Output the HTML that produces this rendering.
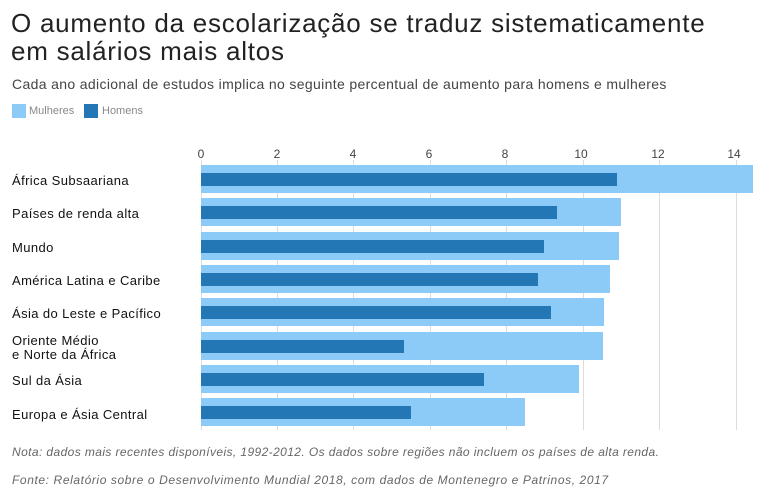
<!DOCTYPE html>
<html><head><meta charset="utf-8"><style>
body{margin:0;width:768px;height:504px;background:#fff;font-family:"Liberation Sans","DejaVu Sans",sans-serif;position:relative;overflow:hidden}
.a{position:absolute;white-space:nowrap}
.t{font-size:26px;color:#222;left:11px;line-height:28px;letter-spacing:0.75px}
.lab{font-size:13px;color:#111;left:12px;letter-spacing:0.4px}
.tick{font-size:12px;color:#444;top:147px;width:30px;text-align:center}
.g{position:absolute;top:160px;height:270px;width:1px;background:#ddd}
.l{position:absolute;left:201px;height:28px;background:#8ccaf8}
.d{position:absolute;left:201px;height:13px;background:#2277b4}
.n{font-size:12px;font-style:italic;color:#666;left:12px;letter-spacing:0.4px}
</style></head><body>
<div class="a t" style="top:9px">O aumento da escolarização se traduz sistematicamente</div>
<div class="a t" style="top:37px">em salários mais altos</div>
<div class="a" style="left:12px;top:76px;font-size:14px;color:#444;letter-spacing:0.35px">Cada ano adicional de estudos implica no seguinte percentual de aumento para homens e mulheres</div>
<div class="a" style="left:12px;top:104px;width:14px;height:14px;background:#8ccaf8"></div>
<div class="a" style="left:29px;top:105px;font-size:11px;color:#888">Mulheres</div>
<div class="a" style="left:84px;top:104px;width:14px;height:14px;background:#2277b4"></div>
<div class="a" style="left:102px;top:105px;font-size:11px;color:#888">Homens</div>

<div class="g" style="left:201px"></div><div class="g" style="left:277px"></div><div class="g" style="left:353px"></div><div class="g" style="left:430px"></div><div class="g" style="left:506px"></div><div class="g" style="left:583px"></div><div class="g" style="left:659px"></div><div class="g" style="left:736px"></div>
<div class="a tick" style="left:186px">0</div><div class="a tick" style="left:262px">2</div><div class="a tick" style="left:338px">4</div><div class="a tick" style="left:414px">6</div><div class="a tick" style="left:490px">8</div><div class="a tick" style="left:566px">10</div><div class="a tick" style="left:643px">12</div><div class="a tick" style="left:719px">14</div>

<div class="l" style="top:165px;width:552px"></div><div class="d" style="top:173px;width:416px"></div>
<div class="l" style="top:198px;width:420px"></div><div class="d" style="top:206px;width:356px"></div>
<div class="l" style="top:232px;width:418px"></div><div class="d" style="top:240px;width:343px"></div>
<div class="l" style="top:265px;width:409px"></div><div class="d" style="top:273px;width:337px"></div>
<div class="l" style="top:298px;width:403px"></div><div class="d" style="top:306px;width:350px"></div>
<div class="l" style="top:332px;width:402px"></div><div class="d" style="top:340px;width:203px"></div>
<div class="l" style="top:365px;width:378px"></div><div class="d" style="top:373px;width:283px"></div>
<div class="l" style="top:398px;width:324px"></div><div class="d" style="top:406px;width:210px"></div>

<div class="a lab" style="top:173px">África Subsaariana</div>
<div class="a lab" style="top:206px">Países de renda alta</div>
<div class="a lab" style="top:240px">Mundo</div>
<div class="a lab" style="top:273px">América Latina e Caribe</div>
<div class="a lab" style="top:306px">Ásia do Leste e Pacífico</div>
<div class="a lab" style="top:334px;line-height:14px">Oriente Médio<br>e Norte da África</div>
<div class="a lab" style="top:373px">Sul da Ásia</div>
<div class="a lab" style="top:407px">Europa e Ásia Central</div>

<div class="a n" style="top:445px">Nota: dados mais recentes disponíveis, 1992-2012. Os dados sobre regiões não incluem os países de alta renda.</div>
<div class="a n" style="top:473px;letter-spacing:0.6px">Fonte: Relatório sobre o Desenvolvimento Mundial 2018, com dados de Montenegro e Patrinos, 2017</div>
</body></html>
